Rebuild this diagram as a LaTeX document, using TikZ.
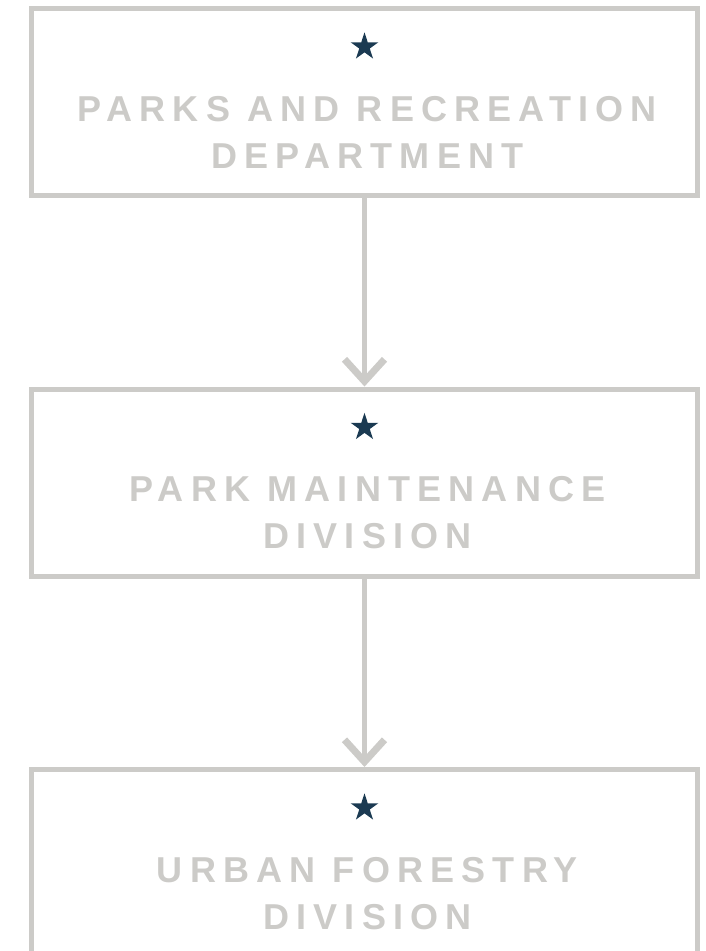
\documentclass[tikz,border=0pt]{standalone}
\usepackage{fontspec}
\usetikzlibrary{shapes,arrows.meta}
\newfontfamily\unitfont{Liberation Sans}[LetterSpace=20]
\definecolor{boxgray}{HTML}{CCCBC8}
\definecolor{starnavy}{HTML}{1B3A52}

\begin{document}
\begin{tikzpicture}[x=1pt,y=1pt,->,
                    >={Straight Barb[length=22pt,width=40pt,line width=7pt]},
                    shorten >=2.5pt,node distance=380.5pt,line width=5pt,
                    unit/.style={draw=boxgray,rectangle,outer sep=0pt,
                                 minimum width=666pt,minimum height=187pt},
                    unitstar/.style={star,star points=5,star point ratio=2.618,
                                     minimum size=29pt,inner sep=0pt,
                                     fill=starnavy,draw=none},
                    unitname/.style={text=boxgray,align=center,anchor=base,
                                     xshift=3pt,
                                     font=\unitfont\bfseries\fontsize{36}{47}\selectfont}]
  \useasboundingbox (0,0) rectangle (706,-951);

  \node[unit]  (dept)                 at (364.5,-102) {};
  \node[unit]  (maint)  [below of=dept]  {};
  \node[unit]  (forest) [below of=maint] {};

  \node[unitstar] (deptstar)   at ([yshift=-38.3pt]dept.north)   {};
  \node[unitstar] (maintstar)  at ([yshift=-38.3pt]maint.north)  {};
  \node[unitstar] (foreststar) at ([yshift=-38.3pt]forest.north) {};

  % base anchor sits on the last line
  \node[unitname] (deptname)   at ([yshift=-159.5pt]dept.north)
        {PARKS AND RECREATION\\DEPARTMENT};
  \node[unitname] (maintname)  at ([yshift=-159.5pt]maint.north)
        {PARK MAINTENANCE\\DIVISION};
  \node[unitname] (forestname) at ([yshift=-159.5pt]forest.north)
        {URBAN FORESTRY\\DIVISION};

  \path[draw=boxgray] (dept)  edge (maint)
                      (maint) edge (forest);
\end{tikzpicture}
\end{document}
